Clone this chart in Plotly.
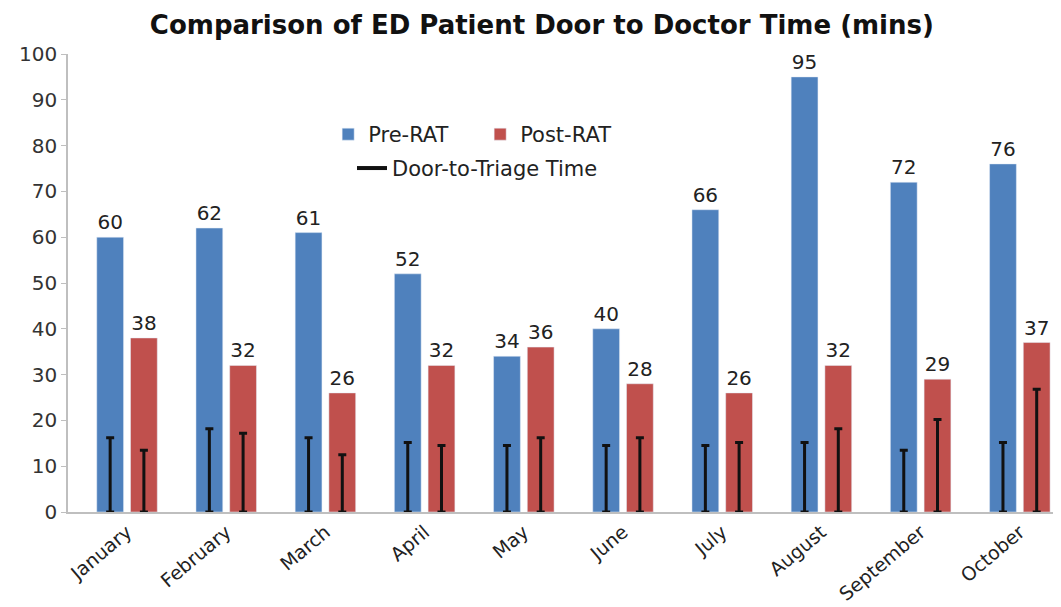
import plotly.graph_objects as go

months = ["January", "February", "March", "April", "May", "June", "July", "August", "September", "October"]
pre_rat = [60, 62, 61, 52, 34, 40, 66, 95, 72, 76]
post_rat = [38, 32, 26, 32, 36, 28, 26, 32, 29, 37]
pre_triage = [16.2, 18.2, 16.2, 15.2, 14.5, 14.5, 14.5, 15.2, 13.5, 15.2]
post_triage = [13.5, 17.2, 12.5, 14.5, 16.2, 16.2, 15.2, 18.2, 20.2, 26.8]

BLUE = "#4F81BD"
RED = "#C0504D"
FONT = "DejaVu Sans"
TXT = "#333333"

idx = list(range(len(months)))
off = 0.17
bw = 0.27
x_pre = [i - off for i in idx]
x_post = [i + off for i in idx]

fig = go.Figure()
fig.add_trace(go.Bar(x=x_pre, y=pre_rat, width=bw, name="Pre-RAT", marker_color=BLUE,
                     text=pre_rat, textposition="outside", textfont=dict(size=20, color="#222"),
                     cliponaxis=False, legend="legend"))
fig.add_trace(go.Bar(x=x_post, y=post_rat, width=bw, name="Post-RAT", marker_color=RED,
                     text=post_rat, textposition="outside", textfont=dict(size=20, color="#222"),
                     cliponaxis=False, legend="legend"))

for xs, vals in ((x_pre, pre_triage), (x_post, post_triage)):
    fig.add_trace(go.Scatter(
        x=xs, y=[0] * len(xs), mode="markers",
        marker=dict(size=1, color="rgba(0,0,0,0)"),
        error_y=dict(type="data", symmetric=False, array=vals, arrayminus=[0] * len(vals),
                     color="#111111", thickness=3, width=4),
        showlegend=False, hoverinfo="skip"))

fig.add_trace(go.Scatter(x=[None], y=[None], mode="lines", name="Door-to-Triage Time",
                         line=dict(color="#111111", width=4), legend="legend2"))

fig.update_layout(
    width=1053, height=599,
    margin=dict(l=60, r=0, t=46, b=95, autoexpand=False),
    paper_bgcolor="white", plot_bgcolor="white",
    font=dict(family=FONT, size=19, color=TXT),
    title=dict(text="<b>Comparison of ED Patient Door to Doctor Time (mins)</b>",
               x=0.507, xanchor="center", y=0.971, yanchor="middle",
               font=dict(family=FONT, size=26, color="#111")),
    barmode="overlay",
    showlegend=True,
    legend=dict(orientation="h", x=0.262, y=0.869, xanchor="left", yanchor="top",
                font=dict(size=21, color="#222"), bgcolor="rgba(0,0,0,0)",
                entrywidth=107, traceorder="normal"),
    legend2=dict(orientation="h", x=0.286, y=0.795, xanchor="left", yanchor="top",
                 font=dict(size=21, color="#222"), bgcolor="rgba(0,0,0,0)"),
    xaxis=dict(range=[-0.595, 9.415], tickmode="array", tickvals=idx, ticktext=months,
               tickangle=-40, showgrid=False, zeroline=False, showline=True, automargin=False,
               linecolor="#BFBFBF", linewidth=1.5, ticks="", tickfont=dict(size=19, color="#222")),
    yaxis=dict(range=[0, 100], dtick=10, showgrid=False, zeroline=False, showline=True, automargin=False,
               linecolor="#BFBFBF", linewidth=1.5, ticks="outside", ticklen=5, tickcolor="#BFBFBF",
               tickfont=dict(size=20, color=TXT)),
)

fig.write_html("out.html")
